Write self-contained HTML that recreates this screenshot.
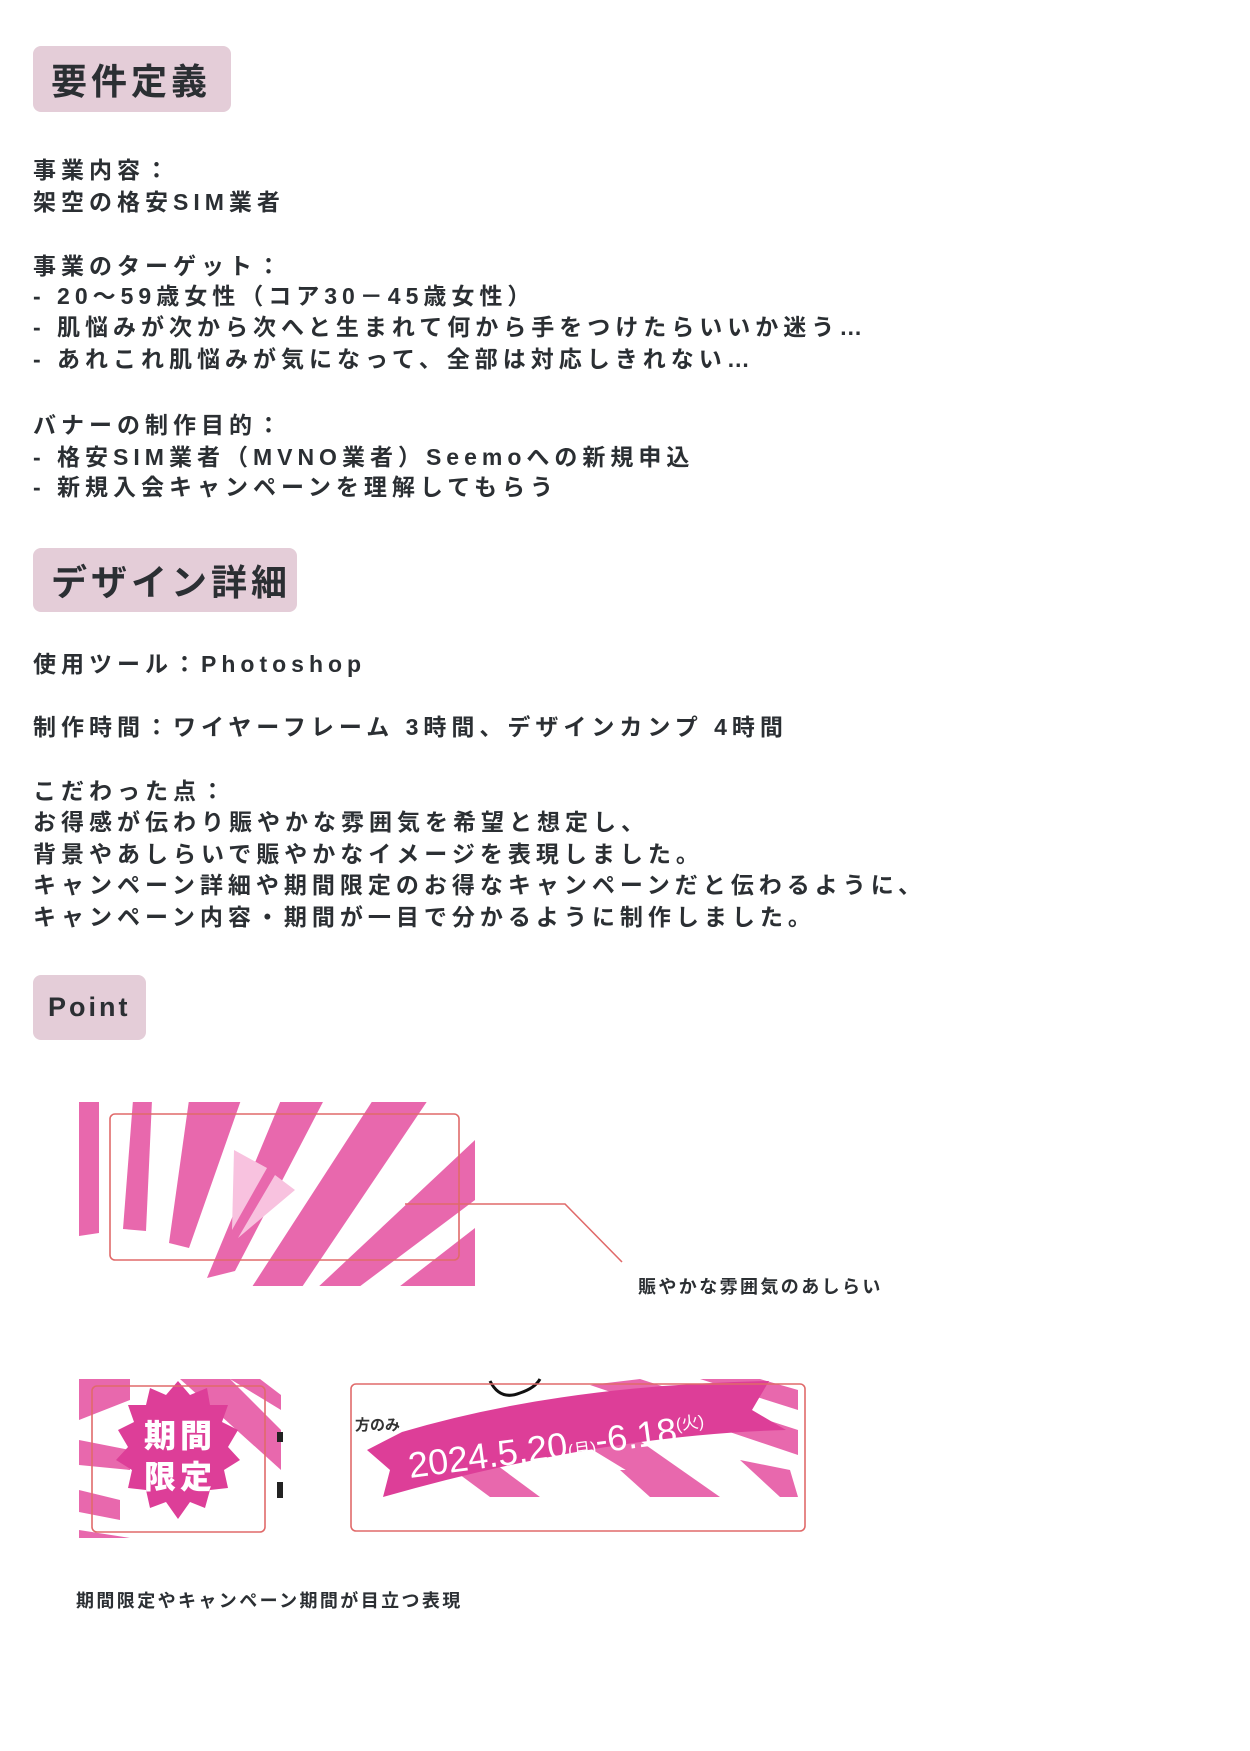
<!DOCTYPE html>
<html><head><meta charset="utf-8"><style>
body{margin:0;width:1250px;height:1751px;background:#fff;position:relative;overflow:hidden;font-family:"Liberation Sans","Noto Sans CJK JP",sans-serif;color:#2b2f33}
.h{position:absolute;left:33px;background:#e4cdd8;border-radius:8px;font-weight:bold;font-size:36px;letter-spacing:4px;box-sizing:border-box;padding-left:18px;display:flex;align-items:center}
.t{position:absolute;left:33px;font-size:23px;font-weight:bold;letter-spacing:5px;white-space:nowrap;line-height:32px;height:32px}
.s{position:absolute;font-size:18px;font-weight:bold;letter-spacing:2.4px;white-space:nowrap;line-height:24px}
</style></head><body>
<div class="h" style="top:46px;width:198px;height:66px">要件定義</div>
<div class="t" style="top:154px">事業内容：</div>
<div class="t" style="top:186px">架空の格安SIM業者</div>
<div class="t" style="top:250px">事業のターゲット：</div>
<div class="t" style="top:280px">- 20～59歳女性（コア30－45歳女性）</div>
<div class="t" style="top:311px">- 肌悩みが次から次へと生まれて何から手をつけたらいいか迷う…</div>
<div class="t" style="top:343px">- あれこれ肌悩みが気になって、全部は対応しきれない…</div>
<div class="t" style="top:409px">バナーの制作目的：</div>
<div class="t" style="top:441px">- 格安SIM業者（MVNO業者）Seemoへの新規申込</div>
<div class="t" style="top:471px">- 新規入会キャンペーンを理解してもらう</div>

<div class="h" style="top:548px;width:264px;height:64px">デザイン詳細</div>
<div class="t" style="top:648px">使用ツール：Photoshop</div>
<div class="t" style="top:711px">制作時間：ワイヤーフレーム 3時間、デザインカンプ 4時間</div>
<div class="t" style="top:775px">こだわった点：</div>
<div class="t" style="top:806px">お得感が伝わり賑やかな雰囲気を希望と想定し、</div>
<div class="t" style="top:838px">背景やあしらいで賑やかなイメージを表現しました。</div>
<div class="t" style="top:869px">キャンペーン詳細や期間限定のお得なキャンペーンだと伝わるように、</div>
<div class="t" style="top:901px">キャンペーン内容・期間が一目で分かるように制作しました。</div>

<div class="h" style="top:975px;width:113px;height:65px;font-size:27px;padding-left:15px;letter-spacing:3px">Point</div>

<svg style="position:absolute;left:0;top:0" width="1250" height="1751">
<defs>
<clipPath id="c1"><rect x="79" y="1102" width="396" height="184"/></clipPath>
<clipPath id="c2"><rect x="79" y="1379" width="202" height="159"/></clipPath>
<clipPath id="c3"><rect x="353" y="1379" width="445" height="118"/></clipPath>
</defs>
<g clip-path="url(#c1)" fill="#e868ad">
<polygon points="79,1100 99,1100 99,1233 79,1236"/>
<polygon points="133,1100 152,1100 146,1231 123,1229"/>
<polygon points="189,1100 241,1100 189,1248 169,1243"/>
<polygon points="281,1100 324,1100 235,1271 207,1278"/>
<polygon points="373,1100 428,1100 300,1290 250,1290"/>
<polygon points="475,1140 475,1200 355,1290 315,1290"/>
<polygon points="475,1228 475,1290 395,1290"/>
</g>
<polygon points="234,1150 267,1168 232,1230" fill="#f8c2df"/>
<polygon points="275,1175 295,1190 238,1238" fill="#f8c2df"/>
<rect x="110" y="1114" width="349" height="146" rx="5" fill="none" stroke="#e06a6a" stroke-width="1.6"/>
<polyline points="405,1204 565,1204 622,1262" fill="none" stroke="#e06a6a" stroke-width="1.6"/>

<g clip-path="url(#c2)" fill="#e868ad">
<polygon points="79,1379 130,1379 130,1400 79,1420"/>
<polygon points="180,1379 230,1379 281,1430 281,1470"/>
<polygon points="230,1379 260,1379 281,1395 281,1410"/>
<polygon points="79,1440 130,1450 130,1470 79,1465"/>
<polygon points="79,1490 120,1500 120,1520 79,1512"/>
<polygon points="79,1530 130,1538 79,1538"/>
</g>
<polygon fill="#dd3e98" points="178,1381 190,1395 207,1388 210,1405 228,1405 222,1422 238,1430 228,1447 240,1460 224,1470 228,1488 210,1490 205,1508 190,1502 178,1519 166,1502 150,1508 146,1490 128,1488 132,1470 116,1460 128,1447 118,1430 134,1422 128,1405 146,1405 150,1388 166,1395"/>
<text x="180" y="1447" text-anchor="middle" font-size="32" font-weight="900" fill="#fff" font-family="Noto Sans CJK JP" letter-spacing="4">期間</text>
<text x="180" y="1488" text-anchor="middle" font-size="32" font-weight="900" fill="#fff" font-family="Noto Sans CJK JP" letter-spacing="4">限定</text>
<rect x="277" y="1432" width="6" height="10" fill="#222"/><rect x="277" y="1482" width="6" height="16" fill="#222"/>
<rect x="92" y="1386" width="173" height="146" rx="5" fill="none" stroke="#e06a6a" stroke-width="1.6"/>

<g clip-path="url(#c3)" fill="#e868ad">
<polygon points="590,1385 640,1379 798,1430 798,1455"/>
<polygon points="700,1379 760,1379 798,1390 798,1410"/>
<polygon points="560,1430 610,1420 720,1497 670,1497"/>
<polygon points="440,1460 490,1460 540,1497 490,1497"/>
<polygon points="620,1470 660,1470 700,1497 650,1497"/>
<polygon points="740,1460 790,1470 798,1497 780,1497"/>
</g>
<path d="M490,1381 q10,20 30,12 q15,-5 20,-14" fill="none" stroke="#111" stroke-width="3"/>
<path fill="#dd3e98" d="M367,1450 L402,1432 Q560,1385 769,1381 L752,1410 L786,1430 Q600,1435 383,1497 L390,1470 Z"/>
<text x="0" y="0" transform="translate(410,1478) rotate(-7.6)" font-size="36" fill="#fff" font-family="Liberation Sans">2024.5.20<tspan font-size="17">(月)</tspan>-6.18<tspan font-size="17" dy="-12">(火)</tspan></text>
<text x="355" y="1430" font-size="15" font-weight="bold" fill="#333" font-family="Noto Sans CJK JP">方のみ</text>
<rect x="351" y="1384" width="454" height="147" rx="5" fill="none" stroke="#e06a6a" stroke-width="1.6"/>
</svg>
<div class="s" style="left:638px;top:1275px">賑やかな雰囲気のあしらい</div>
<div class="s" style="left:76px;top:1589px">期間限定やキャンペーン期間が目立つ表現</div>
</body></html>
